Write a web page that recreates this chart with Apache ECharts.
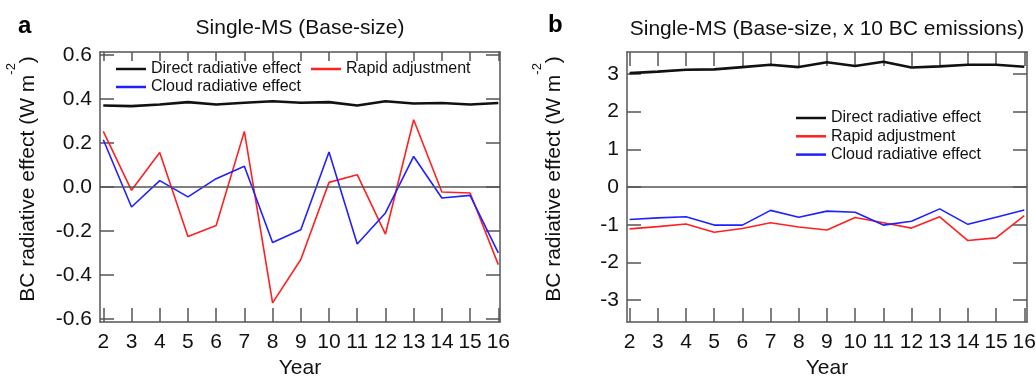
<!DOCTYPE html>
<html>
<head>
<meta charset="utf-8">
<script src="https://cdn.jsdelivr.net/npm/echarts@6/dist/echarts.min.js"></script>
<style>
html,body{margin:0;padding:0;background:#fff;}
#chart{width:1036px;height:376px;}
</style>
</head>
<body>
<div id="chart"></div>
<script>
const years = [2,3,4,5,6,7,8,9,10,11,12,13,14,15,16];
const directA = [0.371,0.368,0.375,0.386,0.375,0.383,0.390,0.383,0.386,0.371,0.390,0.380,0.382,0.375,0.382];
const rapidA  = [0.253,-0.015,0.157,-0.225,-0.175,0.253,-0.527,-0.330,0.021,0.056,-0.214,0.306,-0.023,-0.027,-0.353];
const cloudA  = [0.215,-0.091,0.029,-0.045,0.038,0.094,-0.252,-0.194,0.159,-0.259,-0.118,0.139,-0.050,-0.038,-0.300];
const directB = [3.02,3.06,3.11,3.12,3.18,3.24,3.18,3.31,3.21,3.32,3.17,3.20,3.24,3.24,3.19];
const rapidB  = [-1.11,-1.05,-0.98,-1.20,-1.10,-0.95,-1.06,-1.14,-0.81,-0.95,-1.09,-0.79,-1.42,-1.35,-0.76];
const cloudB  = [-0.86,-0.82,-0.79,-1.01,-1.01,-0.62,-0.80,-0.64,-0.67,-1.01,-0.91,-0.58,-0.99,-0.80,-0.61];
const yTicksA = [-0.6,-0.4,-0.2,0,0.2,0.4,0.6];
const yTicksB = [-3,-2,-1,0,1,2,3];
const titleA = 'Single-MS (Base-size)';
const titleB = 'Single-MS (Base-size, x 10 BC emissions)';
const seriesNames = ['Direct radiative effect','Rapid adjustment','Cloud radiative effect'];

const FONT = 'Liberation Sans, Arial, sans-serif';
const AX = '#555';
const colors = ['#111111','#ff2020','#2020ff'];
const widths = [2.6,1.6,1.6];

const chart = echarts.init(document.getElementById('chart'), null, {renderer:'canvas'});

function xAx(grid, pos, min, max, tickLen, showLabel){
  return {
    type:'value', gridIndex:grid, position:pos, min:min, max:max,
    axisLine:{show:true, onZero:false, lineStyle:{color:AX, width:1.5}},
    axisTick:{show:true, inside:true, length:tickLen, customValues:years, lineStyle:{color:AX, width:1.5}},
    axisLabel:{show:showLabel, customValues:years, fontSize:21, fontFamily:FONT, color:'#111', margin:10},
    splitLine:{show:false},
    name: showLabel ? 'Year' : '',
    nameLocation:'middle', nameGap:36,
    nameTextStyle:{fontSize:21, fontFamily:FONT, color:'#111'}
  };
}
const yName = '{m|BC radiative effect (W m}{s|-2}{m|)}';
function yAx(grid, pos, min, max, ticks, fmt, showLabel, gap){
  return {
    type:'value', gridIndex:grid, position:pos, min:min, max:max,
    axisLine:{show:true, onZero:false, lineStyle:{color:AX, width:1.5}},
    axisTick:{show:true, inside:true, length:14, customValues:ticks, lineStyle:{color:AX, width:1.5}},
    axisLabel:{show:showLabel, customValues:ticks, fontSize:21, fontFamily:FONT, color:'#111', margin:8, formatter:fmt},
    splitLine:{show:false},
    name: showLabel ? yName : '',
    nameLocation:'middle', nameRotate:90, nameGap:gap,
    nameTextStyle:{
      fontFamily:FONT, color:'#111', padding:[0,0,0,16],
      rich:{
        m:{fontSize:21, fontFamily:FONT, color:'#111', lineHeight:34, verticalAlign:'bottom'},
        s:{fontSize:13, fontFamily:FONT, color:'#111', verticalAlign:'top'}
      }
    }
  };
}

function mkSeries(name, idx, xi, yi, vals, zero){
  const s = {
    name:name, type:'line', xAxisIndex:xi, yAxisIndex:yi,
    data: years.map((y,i)=>[y, vals[i]]),
    symbol:'none', showSymbol:false, animation:false,
    lineStyle:{color:colors[idx], width:widths[idx]},
    itemStyle:{color:colors[idx]},
    z: 3
  };
  if (zero) {
    s.markLine = {
      silent:true, symbol:['none','none'], animation:false,
      label:{show:false},
      lineStyle:{color:AX, width:1.5, type:'solid'},
      data:[{yAxis:0}]
    };
  }
  return s;
}

const legendBase = {
  padding:0, icon:'rect', itemWidth:30, itemHeight:2.5, selectedMode:false,
  textStyle:{fontSize:16, fontFamily:FONT, color:'#111'}
};

const option = {
  animation:false,
  backgroundColor:'#fff',
  textStyle:{fontFamily:FONT},
  grid:[
    {left:100, top:52, width:400, height:270, containLabel:false, outerBoundsMode:'none'},
    {left:627, top:52, width:400, height:270, containLabel:false, outerBoundsMode:'none'}
  ],
  xAxis:[
    xAx(0,'bottom',1.883,16.06,14,true),
    xAx(0,'top',1.883,16.06,9,false),
    xAx(1,'bottom',1.908,16.096,14,true),
    xAx(1,'top',1.908,16.096,14,false)
  ],
  yAxis:[
    yAx(0,'left',-0.614,0.614,yTicksA,v=>v.toFixed(1),true,61),
    yAx(0,'right',-0.614,0.614,yTicksA,v=>v.toFixed(1),false,0),
    yAx(1,'left',-3.58,3.58,yTicksB,v=>String(v),true,62),
    yAx(1,'right',-3.58,3.58,yTicksB,v=>String(v),false,0)
  ],
  legend:[
    Object.assign({data:[seriesNames[0],seriesNames[1]], left:116, top:61, orient:'horizontal', itemGap:10}, legendBase),
    Object.assign({data:[seriesNames[2]], left:116, top:79, orient:'horizontal', itemGap:10}, legendBase),
    Object.assign({data:seriesNames, left:796, top:110, orient:'vertical', itemGap:2.3}, legendBase)
  ],
  graphic:[
    {type:'text', x:300, y:28, style:{text:titleA, font:'21px '+FONT, fill:'#111', textAlign:'center', textVerticalAlign:'middle'}},
    {type:'text', x:827, y:29, style:{text:titleB, font:'21px '+FONT, fill:'#111', textAlign:'center', textVerticalAlign:'middle'}},
    {type:'text', x:18, y:26, style:{text:'a', font:'bold 24px '+FONT, fill:'#000', textAlign:'left', textVerticalAlign:'middle'}},
    {type:'text', x:548, y:25, style:{text:'b', font:'bold 24px '+FONT, fill:'#000', textAlign:'left', textVerticalAlign:'middle'}}
  ],
  series:[
    mkSeries(seriesNames[0],0,0,0,directA,true),
    mkSeries(seriesNames[1],1,0,0,rapidA,false),
    mkSeries(seriesNames[2],2,0,0,cloudA,false),
    mkSeries(seriesNames[0],0,2,2,directB,true),
    mkSeries(seriesNames[1],1,2,2,rapidB,false),
    mkSeries(seriesNames[2],2,2,2,cloudB,false)
  ]
};
chart.setOption(option);
</script>
</body>
</html>
